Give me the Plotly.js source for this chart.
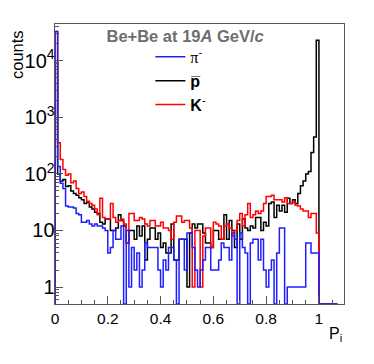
<!DOCTYPE html>
<html>
<head>
<meta charset="utf-8">
<script src="https://cdn.plot.ly/plotly-3.0.1.min.js"></script>
<style>
  html, body { margin: 0; padding: 0; background: #fff; }
  #chart { width: 374px; height: 364px; }
</style>
</head>
<body>
<div id="chart"></div>
<script>
// bin width in P_i, first bin starts at 0
const binWidth = 0.01;

// counts per bin (0 = empty bin)
const piMinus = [
  33000, 135, 68, 55, 27, 26, 26, 25, 20, 19,
  14, 14, 15, 13, 12, 13, 12, 12, 11, 10,
  4, 5, 10, 7, 7, 12, 0, 10, 1, 5,
  2, 4, 1, 2, 6, 5, 5, 5, 5, 2,
  1, 3, 2, 5, 5, 3, 0, 7, 7, 2,
  9, 9, 5, 2, 1, 2, 3, 5, 5, 2,
  2, 2, 3, 6, 5, 5, 3, 9, 7, 0,
  9, 5, 4, 0, 6, 7, 7, 3, 7, 2,
  1, 2, 3, 0, 4, 11, 11, 0, 1, 1,
  1, 1, 1, 1, 1, 6, 6, 4, 4, 4,
  0, 0, 0, 0, 0, 0, 0
];

const antiProton = [
  9000, 100, 75, 80, 60, 62, 50, 45, 42, 38,
  35, 30, 32, 26, 24, 21, 20, 14, 13, 16,
  16, 10, 10, 11, 19, 15, 12, 6, 10, 10,
  7, 12, 8, 12, 3, 7, 11, 11, 7, 9,
  5, 6, 4, 4, 13, 3, 3, 7, 7, 7,
  1, 9, 13, 11, 13, 13, 9, 6, 6, 5,
  10, 10, 7, 7, 19, 7, 15, 10, 5, 13,
  7, 16, 11, 10, 12, 11, 17, 17, 10, 14,
  12, 30, 32, 17, 28, 22, 28, 21, 37, 30,
  35, 30, 45, 62, 75, 100, 110, 240, 450, 23000,
  0, 0, 0, 0, 0, 0, 0
];

const kMinus = [
  33000, 355, 180, 120, 95, 100, 70, 75, 55, 45,
  48, 40, 33, 30, 28, 24, 19, 37, 17, 16,
  16, 30, 17, 14, 15, 16, 13, 6, 20, 20,
  15, 15, 17, 16, 13, 12, 15, 15, 12, 12,
  14, 11, 11, 10, 7, 14, 18, 18, 14, 15,
  15, 11, 1, 10, 10, 1, 8, 11, 11, 5,
  14, 13, 12, 7, 12, 13, 11, 8, 10, 15,
  20, 12, 19, 30, 17, 19, 22, 20, 22, 30,
  40, 40, 42, 35, 35, 35, 32, 38, 30, 30,
  32, 28, 27, 24, 22, 22, 17, 20, 20, 9,
  0, 0, 0, 0, 0, 0, 0
];

const yLog = [-0.3, 4.65];
const floorValue = Math.pow(10, yLog[0]);

// outline of a histogram, ROOT style: start and end at the frame bottom
function outline(counts) {
  const xs = [0], ys = [floorValue];
  counts.forEach(function(c, i) {
    xs.push(i * binWidth);
    ys.push(c > 0 ? c : floorValue);
  });
  xs.push(counts.length * binWidth);
  ys.push(counts[counts.length - 1] > 0 ? counts[counts.length - 1] : floorValue);
  xs.push(counts.length * binWidth);
  ys.push(floorValue);
  return { x: xs, y: ys };
}

window.addEventListener('load', function() {
  const pb = outline(antiProton), k = outline(kMinus), pi = outline(piMinus);
  const axisColor = '#555';

  const traces = [
    { x: pb.x, y: pb.y, type: 'scatter', mode: 'lines', line: { shape: 'hv', color: '#000', width: 1.5 },
      name: '<b>p\u0305</b>', legendrank: 2 },
    { x: k.x, y: k.y, type: 'scatter', mode: 'lines', line: { shape: 'hv', color: '#ff0000', width: 1.5 },
      name: '<b>K</b><sup>-</sup>', legendrank: 3 },
    { x: pi.x, y: pi.y, type: 'scatter', mode: 'lines', line: { shape: 'hv', color: '#1e1eff', width: 1.5 },
      name: '<span style="font-family:Liberation Serif">π</span><sup>-</sup>', legendrank: 1 }
  ];

  const layout = {
    width: 374, height: 364,
    margin: { l: 55, r: 30, t: 24, b: 60 },
    paper_bgcolor: '#fff', plot_bgcolor: '#fff',
    font: { family: 'Liberation Sans, Arial, sans-serif', size: 15, color: '#000' },
    title: {
      text: '<b>Be+Be at 19<i>A</i> GeV/<i>c</i></b>',
      font: { size: 16.5, color: '#6e6e6e' },
      xref: 'container', x: 0.495, xanchor: 'center',
      yref: 'container', y: 1 - 36 / 364, yanchor: 'middle'
    },
    showlegend: true,
    legend: {
      x: 0.33, y: 0.943, xanchor: 'left', yanchor: 'top',
      bgcolor: 'rgba(0,0,0,0)', borderwidth: 0,
      font: { size: 16 }, traceorder: 'normal'
    },
    xaxis: {
      range: [0, 1.095], showgrid: false, zeroline: false,
      showline: true, linecolor: axisColor, linewidth: 1.2, mirror: true,
      ticks: 'inside', ticklen: 8, tickcolor: axisColor, dtick: 0.2, tick0: 0,
      minor: { ticks: 'inside', ticklen: 4, dtick: 0.05, tickcolor: axisColor },
      tickfont: { size: 15.5 }
    },
    yaxis: {
      type: 'log', range: yLog, showgrid: false, zeroline: false,
      showline: true, linecolor: axisColor, linewidth: 1.2, mirror: true,
      ticks: 'inside', ticklen: 8, tickcolor: axisColor, dtick: 1,
      exponentformat: 'power', ticklabelstandoff: -4,
      minor: { ticks: 'inside', ticklen: 4, tickcolor: axisColor, dtick: 'D1' },
      tickfont: { size: 16 }
    },
    annotations: [
      { text: 'counts', xref: 'paper', yref: 'paper', x: (17 - 55) / 289, y: (304 - 55) / 280,
        xanchor: 'center', yanchor: 'middle', textangle: -90, showarrow: false, font: { size: 16.5 } },
      { text: 'P<sub>i</sub>', xref: 'paper', yref: 'paper', x: 1, y: (304 - 334) / 280,
        xanchor: 'right', yanchor: 'middle', showarrow: false, font: { size: 16 } }
    ]
  };

  Plotly.newPlot('chart', traces, layout, { staticPlot: true, displayModeBar: false });
});
</script>
</body>
</html>
